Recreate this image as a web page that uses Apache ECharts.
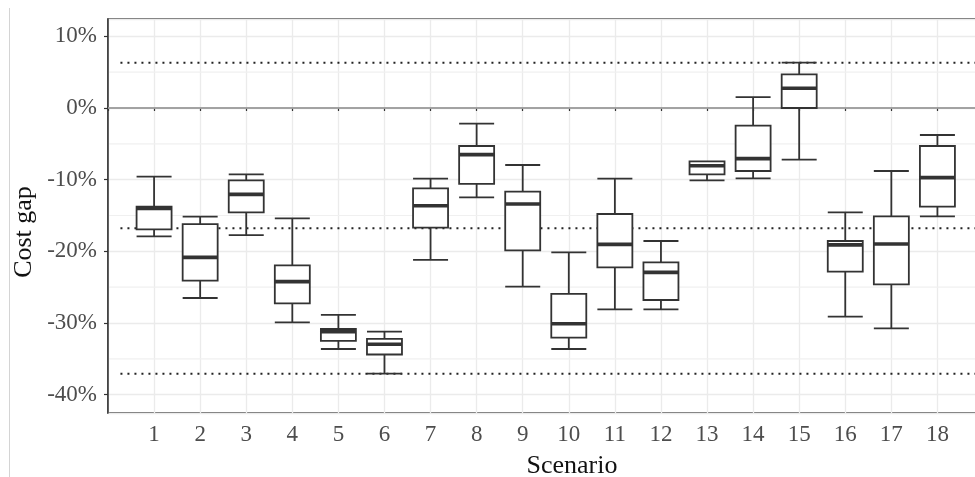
<!DOCTYPE html>
<html><head><meta charset="utf-8">
<script src="https://cdn.jsdelivr.net/npm/echarts@6/dist/echarts.min.js"></script>
<style>html,body{margin:0;padding:0;background:#fff}#c{width:975px;height:477px}</style>
</head><body><div id="c"></div><script>
// ---- data (percent) ----
const scenarios   = [1,2,3,4,5,6,7,8,9,10,11,12,13,14,15,16,17,18];
const whiskerLow  = [-17.9,-26.51,-17.74,-29.9,-33.63,-37.07,-21.2,-12.46,-24.93,-33.63,-28.09,-28.09,-10.09,-9.81,-7.21,-29.12,-30.74,-15.12];
const quart1      = [-16.93,-24.09,-14.56,-27.25,-32.5,-34.4,-16.7,-10.6,-19.86,-32.05,-22.23,-26.79,-9.25,-8.79,0,-22.84,-24.6,-13.77];
const medians     = [-14.0,-20.84,-12.05,-24.23,-31.2,-32.97,-13.63,-6.51,-13.4,-30.1,-19.03,-22.93,-8.05,-7.07,2.75,-19.1,-18.98,-9.72];
const quart3      = [-13.77,-16.19,-10.09,-21.95,-30.84,-32.23,-11.21,-5.3,-11.67,-25.95,-14.79,-21.53,-7.44,-2.46,4.7,-18.56,-15.12,-5.3];
const whiskerHigh = [-9.58,-15.16,-9.25,-15.4,-28.88,-31.21,-9.86,-2.19,-7.95,-20.14,-9.86,-18.56,-7.44,1.53,6.32,-14.56,-8.79,-3.77];
const refLines    = [6.32,-16.79,-37.07];
const zeroLine    = [0];
const minorLines  = [-35,-25,-15,-5,5];
const yTickValues = [-40,-30,-20,-10,0,10];

const boxData = scenarios.map((s,i)=>[s, whiskerLow[i], quart1[i], medians[i], quart3[i], whiskerHigh[i]]);
const medData = scenarios.map((s,i)=>[s, medians[i]]);

const chart = echarts.init(document.getElementById('c'), null, {renderer:'canvas'});
const tickFont = {fontFamily:'Liberation Serif', fontSize:23, color:'#4d4d4d'};

function hlineSeries(values, z, style, startX){
  return {
    type:'custom', z:z, silent:true,
    data: values.map(v=>[0, v]),
    renderItem:(params, api)=>{
      const cs = params.coordSys;
      const y = api.coord([0, api.value(1)])[1];
      const x0 = startX != null ? api.coord([startX, api.value(1)])[0] : cs.x;
      return {type:'line', shape:{x1:x0, y1:y, x2:cs.x+cs.width, y2:y}, style:style};
    }
  };
}

chart.setOption({
  animation:false,
  backgroundColor:'#fff',
  grid:{left:108, top:19, right:-8.5, bottom:64, show:true, borderColor:'#333', borderWidth:1.5, backgroundColor:'transparent', outerBoundsMode:'none', containLabel:false},
  xAxis:{
    type:'value', min:0, max:19, interval:1,
    axisLine:{show:true, lineStyle:{color:'#333', width:1.5}},
    axisTick:{show:true, length:3, lineStyle:{color:'#333', width:1.2}},
    axisLabel:Object.assign({margin:10, formatter:v => (scenarios.indexOf(v) >= 0 ? String(v) : '')}, tickFont),
    splitLine:{show:true, lineStyle:{color:'#ebebeb', width:1.3}}
  },
  yAxis:{
    type:'value', min:-42.56, max:12.42, splitNumber:5, minInterval:10, maxInterval:10,
    axisLine:{show:true, lineStyle:{color:'#333', width:1.5}},
    axisTick:{show:true, length:4, lineStyle:{color:'#333', width:1.2}},
    axisLabel:Object.assign({margin:11, showMinLabel:false, showMaxLabel:false,
      formatter:v => (yTickValues.indexOf(Math.round(v*100)/100) >= 0 ? v + '%' : '')}, tickFont),
    splitLine:{show:true, lineStyle:{color:'#ebebeb', width:1.3}}
  },
  graphic:[
    {type:'line', silent:true, shape:{x1:9.5, y1:8, x2:9.5, y2:477}, style:{stroke:'#d4d4d4', lineWidth:1}},
    {type:'text', x:572, y:466, silent:true, style:{text:'Scenario', font:'26px "Liberation Serif"', fill:'#111', align:'center', verticalAlign:'middle'}},
    {type:'text', x:24, y:232, rotation:Math.PI/2, silent:true, style:{text:'Cost gap', font:'26px "Liberation Serif"', fill:'#111', align:'center', verticalAlign:'middle'}}
  ],
  series:[
    hlineSeries(minorLines, 0, {stroke:'#f0f0f0', lineWidth:1.2}),
    hlineSeries(zeroLine, 1, {stroke:'#b8b8b8', lineWidth:1.3}),
    hlineSeries(refLines, 1, {stroke:'#222', lineWidth:2, lineDash:[2,5]}, 0.27),
    {
      type:'boxplot', z:3, silent:true,
      boxWidth:[35,35],
      data:boxData,
      itemStyle:{color:'#fff', borderColor:'#333', borderWidth:1.8},
      emphasis:{disabled:true}
    },
    {
      type:'custom', z:4, silent:true,
      data:medData,
      renderItem:(params, api)=>{
        const p = api.coord([api.value(0), api.value(1)]);
        const half = api.size([1,0])[0]*0.38;
        return {type:'line', shape:{x1:p[0]-half, y1:p[1], x2:p[0]+half, y2:p[1]}, style:{stroke:'#333', lineWidth:3.6}};
      }
    }
  ]
});
</script></body></html>
